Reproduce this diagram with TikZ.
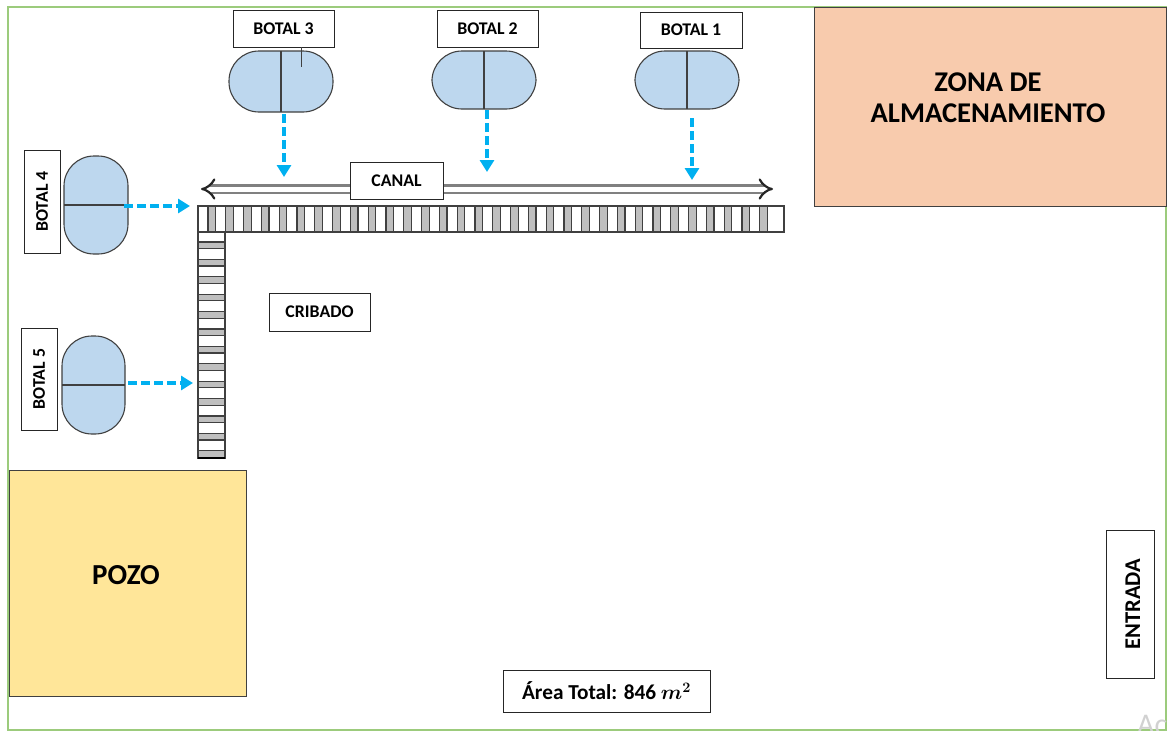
\documentclass[tikz,border=0pt]{standalone}
\usepackage{fontspec}
\setmainfont{Carlito}
\usetikzlibrary{arrows.meta}
\definecolor{tankblue}{HTML}{BDD7EE}
\definecolor{feedblue}{HTML}{00B0F0}
\definecolor{zonecolor}{HTML}{F8CBAD}
\definecolor{wellcolor}{HTML}{FFE699}
\definecolor{sitegreen}{HTML}{9CCB7C}
\definecolor{edgegray}{HTML}{404040}
\tikzset{
    tank/.style={draw=edgegray, fill=tankblue, line width=1.1pt, rounded corners=30pt, outer sep=0pt},
    labelbox/.style={draw=black!85, fill=white, line width=1pt, inner sep=0pt, outer sep=0pt, font=\fontsize{17.8}{18}\selectfont\bfseries},
    areabox/.style={draw=edgegray, fill=white, line width=1pt, inner sep=0pt, outer sep=0pt},
    feed/.style={draw=feedblue, line width=3.4pt, dash pattern=on 9pt off 4pt, -{Triangle[length=12pt,width=14pt]}},
}
\begin{document}
\begin{tikzpicture}[x=1pt, y=-1pt]
    \useasboundingbox (0,0) rectangle (1168,731);

    % Site boundary
    \draw[sitegreen, line width=1.5pt] (8,7) rectangle (1166,730);

    % Storage zone and well
    \node[areabox, fill=zonecolor, minimum width=352pt, minimum height=199pt] (zona) at (990,106.5) {};
    \node[areabox, fill=wellcolor, minimum width=237pt, minimum height=226pt] (pozo) at (127.5,583) {};
    \node[font=\fontsize{28.6}{31}\selectfont\bfseries, align=center] (zonatext) at (988,98) {ZONA DE\\ALMACENAMIENTO};
    \node[font=\fontsize{29}{29}\selectfont\bfseries] (pozotext) at (126,575) {POZO};

    % Horizontal screen channel
    \draw[edgegray, line width=1.2pt] (198,206) rectangle (784,232);
    \foreach \i in {0,...,31}
        \draw[edgegray, line width=1.2pt, fill=black!25] ({208+17.8*\i},206) rectangle ++(7.5,26);

    % Vertical screen channel
    \draw[edgegray, line width=1.2pt] (198,232) rectangle (225,458);
    \foreach \i in {0,...,12}
        \draw[edgegray, line width=1.2pt, fill=black!25] (198,{242+17.4*\i}) rectangle ++(27,6.5);
    \draw[black, line width=1.5pt] (198,458) -- (225,458);

    % Flow direction along the channel
    \coordinate (canalw) at (201,189);
    \coordinate (canale) at (773,189);
    \draw[black!50, line width=2.2pt, double=white, double distance=5pt, {Implies[color=black!85]}-{Implies[color=black!85]}] (canalw) -- (canale);

    % Tanks
    \node[tank, minimum width=104pt, minimum height=61pt] (t3) at (281,81.5) {};
    \node[tank, minimum width=104pt, minimum height=58pt] (t2) at (484,80) {};
    \node[tank, minimum width=104pt, minimum height=58pt] (t1) at (687,80) {};
    \node[tank, minimum width=64pt, minimum height=98pt] (t4) at (96,205) {};
    \node[tank, minimum width=63pt, minimum height=98pt] (t5) at (93.5,385) {};

    % Tank dividers
    \draw[edgegray, line width=1.1pt] (t3.north) -- (t3.south);
    \draw[edgegray, line width=1.1pt] (t2.north) -- (t2.south);
    \draw[edgegray, line width=1.1pt] (t1.north) -- (t1.south);
    \draw[edgegray, line width=1.1pt] (t4.west) -- (t4.east);
    \draw[edgegray, line width=1.1pt] (t5.west) -- (t5.east);

    % Labels
    \node[labelbox, minimum width=101pt, minimum height=37pt] (b3) at (283.5,28.5) {BOTAL 3};
    \node[labelbox, minimum width=101pt, minimum height=37pt] (b2) at (487.5,28.5) {BOTAL 2};
    \node[labelbox, minimum width=102pt, minimum height=36pt] (b1) at (691,30) {BOTAL 1};
    \node[labelbox, rotate=90, minimum width=103pt, minimum height=36pt] (b4) at (42,201.5) {BOTAL 4};
    \node[labelbox, rotate=90, minimum width=102pt, minimum height=36pt] (b5) at (39,379) {BOTAL 5};
    \node[labelbox, minimum width=93pt, minimum height=37pt] (canal) at (396.5,180.5) {CANAL};
    \node[labelbox, minimum width=101pt, minimum height=38pt] (cribado) at (319.5,312) {CRIBADO};
    \node[labelbox, rotate=90, minimum width=148pt, minimum height=48pt, text height=20pt, font=\fontsize{22.5}{22}\selectfont\bfseries] (entrada) at (1130,604) {ENTRADA};
    \node[labelbox, minimum width=207pt, minimum height=42pt, font=\fontsize{21.3}{21}\selectfont\bfseries\boldmath] (area) at (606.5,691) {Área Total: 846 $m^2$};

    % Small tick under the third label
    \draw[edgegray, line width=0.9pt] ([xshift=18pt]b3.south) -- ++(0,20);

    % Feed arrows into the channel
    \coordinate (in3) at (284,177);
    \coordinate (in2) at (487,172);
    \coordinate (in1) at (692,180);
    \coordinate (in4) at (190,206);
    \coordinate (in5) at (193,383);
    \draw[feed] ([xshift=3pt,yshift=-2pt]t3.south) -- (in3);
    \draw[feed] ([xshift=3pt,yshift=-1pt]t2.south) -- (in2);
    \draw[feed] ([xshift=5pt,yshift=-9pt]t1.south) -- (in1);
    \draw[feed] ([xshift=-4pt,yshift=-1pt]t4.east) -- (in4);
    \draw[feed] ([xshift=3pt,yshift=2pt]t5.east) -- (in5);

    % Faint mark in the corner
    \node[black!18, font=\fontsize{30}{30}\selectfont, anchor=north west, inner sep=0pt] (mark) at (1137,715) {Ac};
\end{tikzpicture}
\end{document}
